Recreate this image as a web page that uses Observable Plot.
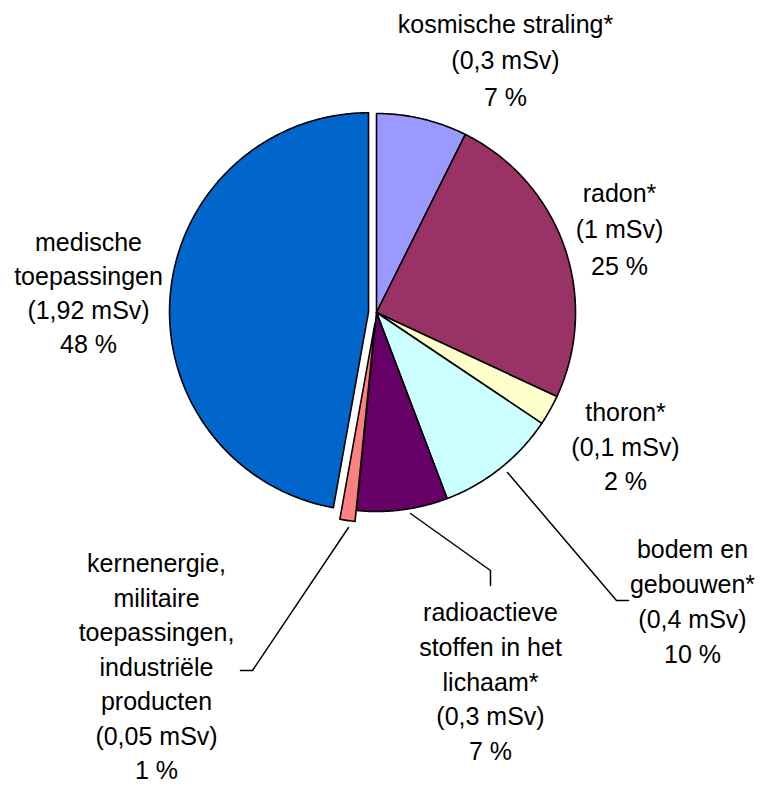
<!DOCTYPE html>
<html>
<head>
<meta charset="utf-8">
<script src="https://cdn.jsdelivr.net/npm/d3@7"></script>
<script src="https://cdn.jsdelivr.net/npm/@observablehq/plot@0.6"></script>
<style>
  html, body { margin: 0; padding: 0; background: #ffffff; }
  #chart svg { display: block; }
</style>
</head>
<body>
<div id="chart"></div>
<script>
// ---- data ----
const categories = [
  "kosmische straling*",
  "radon*",
  "thoron*",
  "bodem en gebouwen*",
  "radioactieve stoffen in het lichaam*",
  "kernenergie, militaire toepassingen, industriële producten",
  "medische toepassingen"
];
const doses = [0.3, 1, 0.1, 0.4, 0.3, 0.05, 1.92];
const doseLabels = ["0,3", "1", "0,1", "0,4", "0,3", "0,05", "1,92"];
const percentLabels = ["7 %", "25 %", "2 %", "10 %", "7 %", "1 %", "48 %"];
const labelLines = [
  ["kosmische straling*"],
  ["radon*"],
  ["thoron*"],
  ["bodem en", "gebouwen*"],
  ["radioactieve", "stoffen in het", "lichaam*"],
  ["kernenergie,", "militaire", "toepassingen,", "industriële", "producten"],
  ["medische", "toepassingen"]
];
const colors = ["#9999FF", "#993366", "#FFFFCC", "#CCFFFF", "#660066", "#FF8080", "#0066CC"];

// ---- layout (pixels) ----
const W = 766, H = 788;
const CX = 376, CY = 312, R = 199;
const explode = [0, 0, 0, 0, 0, 11, 8];
const labelPos = [[505, 57], [619, 226], [625, 444], [692, 599], [490, 679], [156, 664], [88, 291]];
const lineHeights = [1.46, 1.46, 1.38, 1.4, 1.39, 1.38, 1.36];
const leaderLines = [
  {slice: 3, pts: [[507, 472], [616, 600], [628, 600]]},
  {slice: 4, pts: [[410, 513], [490, 570], [490, 585]]},
  {slice: 5, pts: [[348, 527], [252, 670], [240, 670]]}
];

// ---- build ----
const data = categories.map((name, i) => ({name, value: doses[i], i}));
const arcs = d3.pie().value(d => d.value).sort(null).startAngle(0).endAngle(2 * Math.PI)(data);

const slicePts = [];
arcs.forEach(a => {
  const i = a.data.i, name = a.data.name;
  const mid = (a.startAngle + a.endAngle) / 2;
  const ox = CX + explode[i] * Math.sin(mid);
  const oy = CY - explode[i] * Math.cos(mid);
  slicePts.push({name, x: ox, y: oy});
  const n = Math.max(2, Math.ceil((a.endAngle - a.startAngle) / (Math.PI / 360)));
  for (let k = 0; k <= n; k++) {
    const t = a.startAngle + (a.endAngle - a.startAngle) * k / n;
    slicePts.push({name, x: ox + R * Math.sin(t), y: oy - R * Math.cos(t)});
  }
  slicePts.push({name, x: ox, y: oy});
});

const leaderPts = [];
leaderLines.forEach(l => l.pts.forEach(p => leaderPts.push({key: categories[l.slice], x: p[0], y: p[1]})));

const font = "'Liberation Sans', Arial, Helvetica, sans-serif";
const textMarks = categories.map((name, i) => Plot.text([{
    x: labelPos[i][0], y: labelPos[i][1],
    label: [...labelLines[i], `(${doseLabels[i]} mSv)`, percentLabels[i]].join("\n")
  }], {
    x: "x", y: "y", text: "label",
    fontSize: 25, fontFamily: font, fill: "#000",
    textAnchor: "middle", lineAnchor: "middle", lineHeight: lineHeights[i]
  }));

const chart = Plot.plot({
  width: W, height: H,
  margin: 0,
  style: {background: "#ffffff", fontFamily: font},
  x: {domain: [0, W], range: [0, W], axis: null},
  y: {domain: [0, H], range: [0, H], axis: null},
  color: {domain: categories, range: colors},
  marks: [
    Plot.line(slicePts, {x: "x", y: "y", z: "name", fill: "name", stroke: "#000", strokeWidth: 1.6, curve: "linear"}),
    Plot.line(leaderPts, {x: "x", y: "y", z: "key", stroke: "#000", strokeWidth: 1.5}),
    ...textMarks
  ]
});
document.getElementById("chart").appendChild(chart);
</script>
</body>
</html>
